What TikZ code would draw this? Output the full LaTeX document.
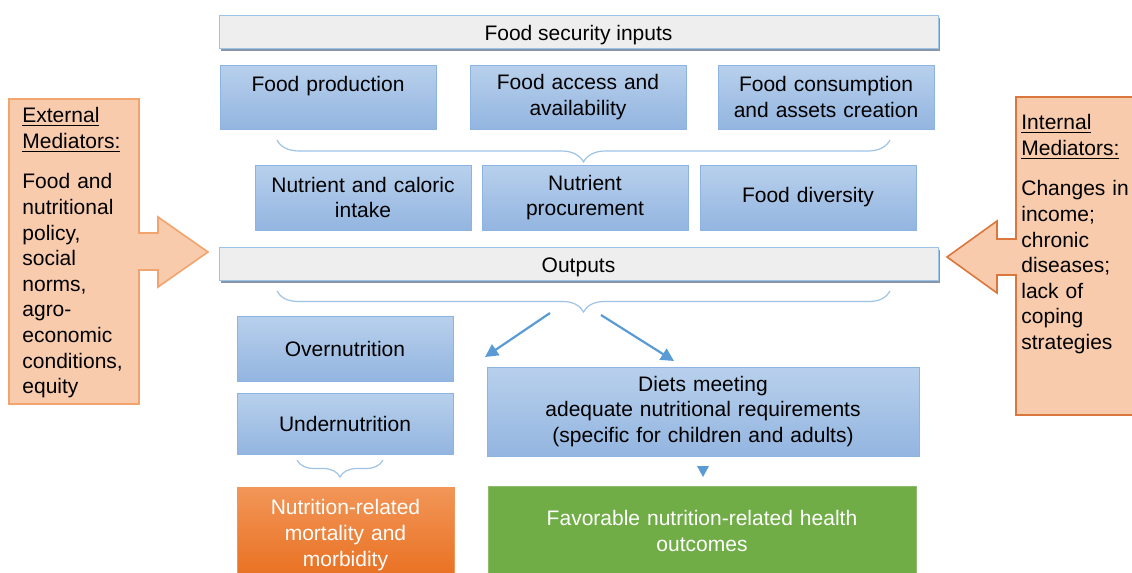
\documentclass[tikz,border=0pt]{standalone}
\usepackage{fontspec}
\setmainfont{Liberation Sans}
\usetikzlibrary{arrows.meta,decorations.pathreplacing,shadows}
\definecolor{boxtop}{HTML}{B8D0EC}
\definecolor{boxbot}{HTML}{93B5E0}
\definecolor{boxline}{HTML}{8DB3E2}
\definecolor{barfill}{HTML}{EEEEEE}
\definecolor{barline}{HTML}{9DC3E6}
\definecolor{barshadow}{HTML}{8797AB}
\definecolor{peach}{HTML}{F8CBAD}
\definecolor{peachlineL}{HTML}{F2A46E}
\definecolor{peachlineR}{HTML}{D9773C}
\definecolor{bracecol}{HTML}{9DC3E6}
\definecolor{arrowblue}{HTML}{5B9BD5}
\definecolor{badtop}{HTML}{F29658}
\definecolor{badbot}{HTML}{E86E1E}
\definecolor{goodgreen}{HTML}{70AD47}

\begin{document}
\begin{tikzpicture}[x=0.5pt,y=-0.5pt,>={Triangle[length=6.5pt,width=6.5pt]},
  every node/.style={font=\fontsize{10.5}{12.8}\selectfont,align=center,inner sep=0pt},
  bluebox/.style={draw=boxline,top color=boxtop,bottom color=boxbot,text width=100pt},
  bar/.style={draw=barline,fill=barfill,minimum width=359.5pt,minimum height=16.5pt,
    text height=9pt,text depth=0pt,
    drop shadow={shadow xshift=1.2pt,shadow yshift=-1.5pt,fill=barshadow,opacity=1}},
  brc/.style={decorate,decoration={brace,mirror,amplitude=#1},draw=bracecol,line width=0.6pt},
  link/.style={->,draw=arrowblue,fill=arrowblue,line width=1.1pt},
  mediator/.style={fill=peach,line width=0.8pt,line join=miter}]

\useasboundingbox (0,0) rectangle (1132,573);

%%%%%%%%%%%%%%%%%%%%%%%%%%%%%%%%%%%%%%

\node[bar] (inputs) at (578.5,31.5) {Food security inputs};

\node[bluebox,minimum width=108pt,minimum height=32pt] (prod) at (328,97) {Food production\\\mbox{}};
\node[bluebox,minimum width=108pt,minimum height=32pt] (access) at (578,97) {Food access and\\availability};
\node[bluebox,minimum width=108pt,minimum height=32pt,text width=106pt] (consum) at (826,97) {Food consumption\\and assets creation};

\draw[brc=11pt] (277,140) -- (890,140);

\node[bluebox,minimum width=108pt,minimum height=32.5pt,text width=104pt] (intake) at (363,197.5) {Nutrient and caloric\\intake};
\node[bluebox,minimum width=103pt,minimum height=32.5pt] (procure) at (585,197.5) {Nutrient\\procurement};
\node[bluebox,minimum width=108pt,minimum height=32.5pt] (divers) at (808,197.5) {Food diversity};

%%%%%%%%%%%%%%%%%%%%%%%%%%%%%%%%%%%%%%

\node[bar] (outputs) at (578.5,263.5) {Outputs};

\draw[brc=10.5pt] (277,291) -- (890,291);
\coordinate (tipL) at (550,313);
\coordinate (tipR) at (601,315);
\coordinate (overend) at (485,357);
\coordinate (dietend) at (674,361);
\draw[link] (tipL) -- (overend);
\draw[link] (tipR) -- (dietend);

\node[bluebox,minimum width=108pt,minimum height=32.5pt] (over) at (345,348.5) {Overnutrition};
\node[bluebox,minimum width=108pt,minimum height=30.5pt] (under) at (345,423.5) {Undernutrition};
\node[bluebox,minimum width=216pt,minimum height=44.5pt,text width=210pt] (diets) at (703,411.5)
  {Diets meeting\\adequate nutritional requirements\\(specific for children and adults)};

\draw[brc=8.5pt] (297,460) -- (383,460);
\fill[arrowblue] (697,466) -- (709,466) -- (703,477) -- cycle;

\node[draw=badtop,top color=badtop,bottom color=badbot,text=white,minimum width=108.5pt,minimum height=48pt,text width=104pt]
  (mortal) at (345.5,535) {Nutrition-related\\mortality and\\morbidity};
\node[draw=goodgreen!80!white,fill=goodgreen,text=white,minimum width=214pt,minimum height=45pt,text width=200pt]
  (favor) at (702,531) {Favorable nutrition-related health\\outcomes};

%%%%%%%%%%%%%%%%%%%%%%%%%%%%%%%%%%%%%%

\draw[mediator,draw=peachlineL] (9,99) -- (139,99) -- (139,233) -- (158,233) -- (158,217) -- (208,252)
  -- (158,287) -- (158,270) -- (139,270) -- (139,404) -- (9,404) -- cycle;
\node[anchor=north west,align=left,text width=62pt] (extmed) at (22,107)
  {\underline{External}\\\underline{Mediators:}\\[7.5pt]Food and\\nutritional\\policy,\\social\\norms,\\agro-\\economic\\conditions,\\equity};

\draw[mediator,draw=peachlineR] (1145,97) -- (1016,97) -- (1016,239) -- (997,239) -- (997,221) -- (947,257)
  -- (997,293) -- (997,275) -- (1016,275) -- (1016,415) -- (1145,415);
\node[anchor=north west,align=left,text width=58pt] (intmed) at (1021,114)
  {\underline{Internal}\\\underline{Mediators:}\\[7.5pt]Changes in\\income;\\chronic\\diseases;\\lack of\\coping\\strategies};

\end{tikzpicture}
\end{document}
